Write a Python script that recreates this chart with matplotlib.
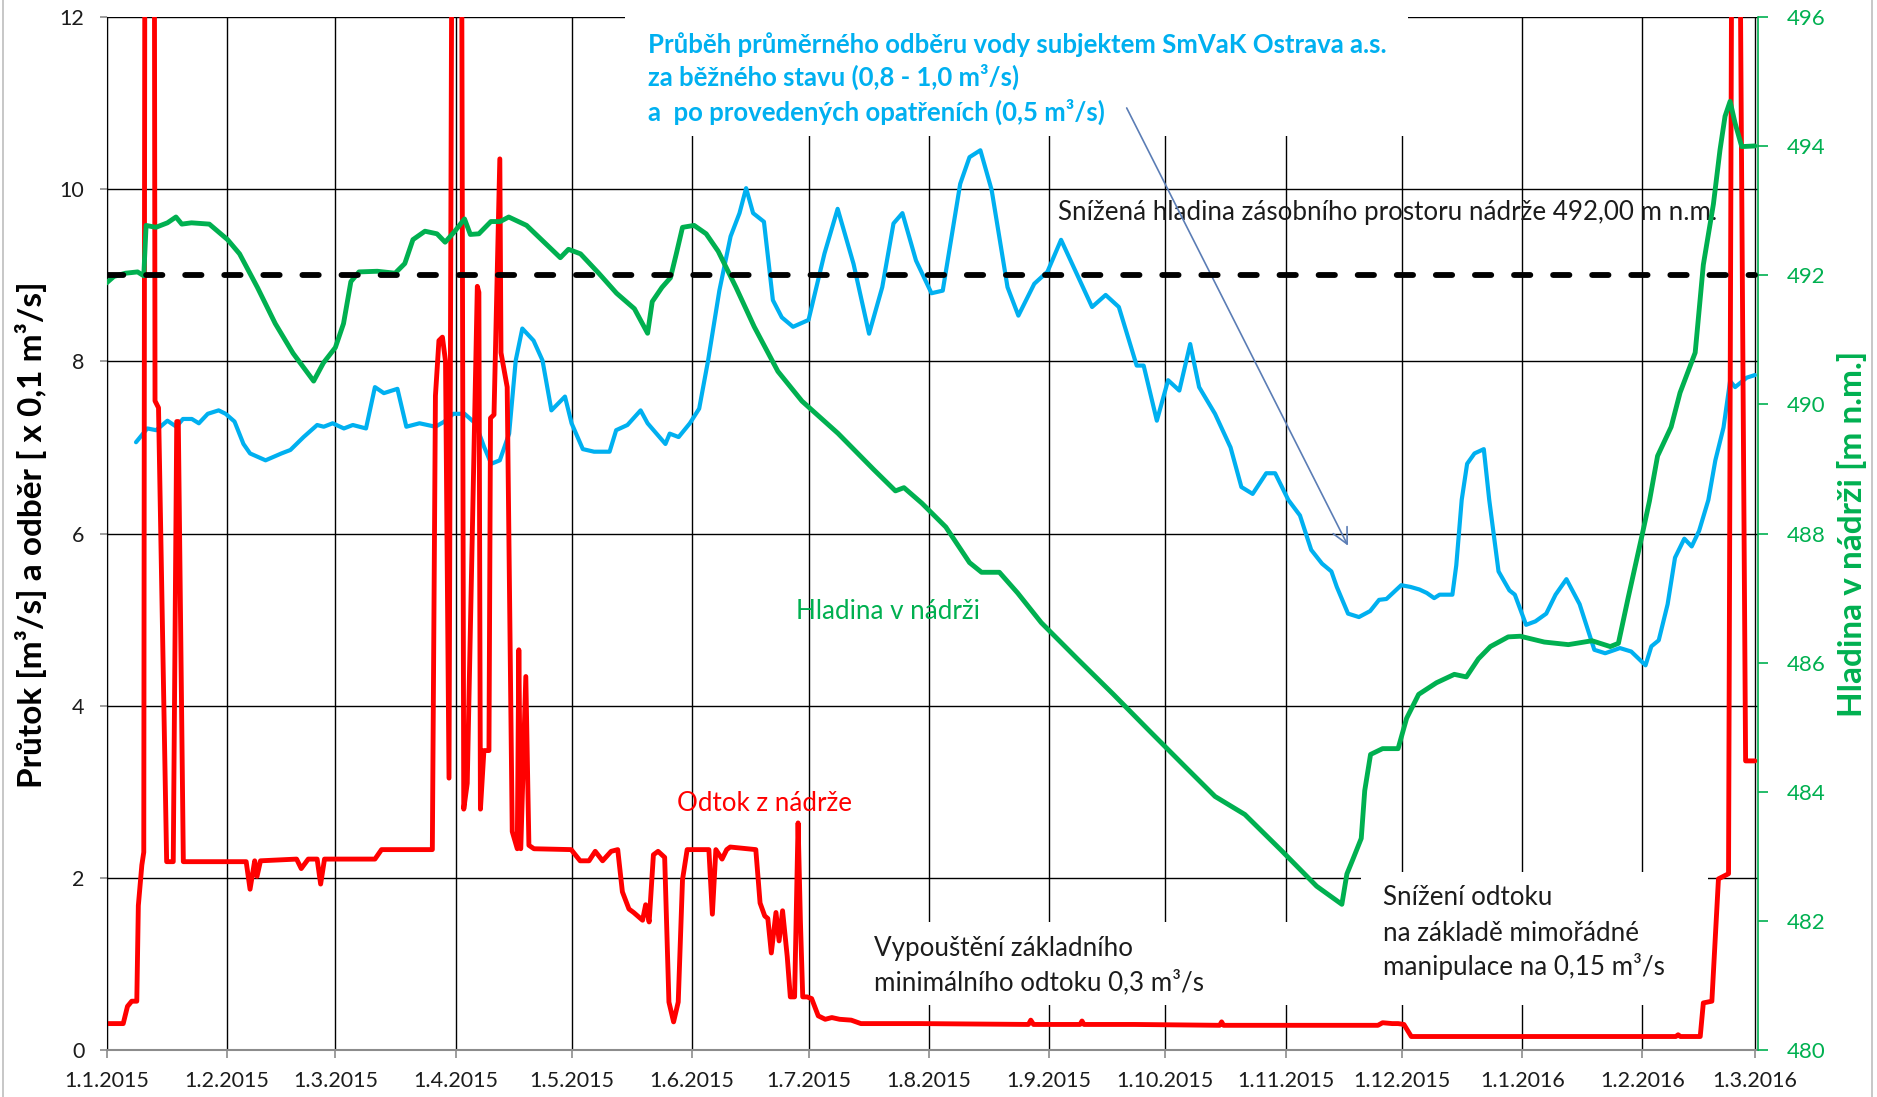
import numpy as np
import pandas as pd
import matplotlib
matplotlib.use("Agg")
import matplotlib.pyplot as plt
from matplotlib.patches import Rectangle
from matplotlib.lines import Line2D

plt.rcParams['font.family'] = ['Lato', 'DejaVu Sans']

START = pd.Timestamp('2015-01-01')

# ---------------- data (day offset from 1.1.2015, value) ----------------
odtok_days = [0, 4.3, 5.4, 6.5, 7.8, 8.2, 9.1, 9.6, 9.9, 12.3, 12.5, 13.4, 15.5, 17.2, 18.1, 18.5, 19.8,
              36, 37, 38.2, 38.8, 39.7, 49, 50.2, 52, 54.3, 55.2, 56.2, 69.2, 70.9, 83, 84, 84.8, 85.7,
              86.6, 87.4, 88.3, 89.1, 91.5, 92.1, 93, 95.6, 96.0, 96.4, 97.3, 98.6, 99, 99.9, 101.4,
              101.7, 103.3, 104.6, 105.9, 106.3, 106.8, 108.1, 108.9, 110.2, 119.8, 122.1, 124.4, 126,
              127.9, 130.1, 131.8, 133, 134.7, 135.9, 138.2, 139, 139.9, 141, 142.2, 143.9, 145, 146.2,
              147.4, 148.5, 149.7, 155.3, 156.2, 157.1, 158.7, 159.9, 160.8, 167.4, 168.5, 169.7,
              170.5, 171.4, 172.6, 173.4, 174.3, 175.5, 176.3, 177.4, 178.3, 178.9, 179.5, 180.6,
              181.8, 183.5, 185.3, 187, 189, 192, 194.5, 210, 237.7, 238.3, 239, 251, 251.5, 252, 265,
              287, 287.5, 288, 300, 327.8, 329, 331.5, 333, 334.5, 336.4, 404.6, 405.2, 405.8, 410.9,
              411.7, 413.9, 415.6, 418.2, 419.1, 421.0, 422.6, 425]
odtok_vals = [0.31, 0.31, 0.51, 0.57, 0.57, 1.68, 2.15, 2.3, 14, 14, 7.54, 7.46, 2.19, 2.19, 7.3, 7.3, 2.19,
              2.19, 1.87, 2.2, 2.02, 2.2, 2.22, 2.11, 2.22, 2.22, 1.93, 2.22, 2.22, 2.33, 2.33, 2.33, 7.6, 8.24,
              8.28, 8.0, 3.16, 14, 14, 2.8, 3.1, 8.87, 8.8, 2.8, 3.48, 3.48, 7.34, 7.38, 10.35,
              8.1, 7.7, 2.54, 2.34, 4.65, 2.34, 4.34, 2.38, 2.34, 2.33, 2.2, 2.2, 2.31,
              2.2, 2.31, 2.33, 1.84, 1.64, 1.6, 1.51, 1.69, 1.49, 2.27, 2.31, 2.24, 0.56, 0.33,
              0.56, 1.98, 2.33, 2.33, 1.58, 2.33, 2.22, 2.33, 2.36, 2.33, 1.71, 1.56,
              1.53, 1.13, 1.6, 1.27, 1.62, 1.09, 0.62, 0.62, 2.64, 1.5, 0.62, 0.62,
              0.6, 0.4, 0.36, 0.38, 0.36, 0.35, 0.31, 0.31, 0.3, 0.35, 0.3, 0.3, 0.34, 0.3, 0.3,
              0.29, 0.33, 0.29, 0.29, 0.29, 0.32, 0.31, 0.31, 0.3, 0.16, 0.16, 0.18, 0.16, 0.16,
              0.55, 0.57, 1.99, 2.05, 14, 14, 3.36, 3.36]

odber_days = [7.6, 10.5, 12.8, 15.7, 18.0, 19.7, 22.0, 23.8, 26.1, 28.9, 30.7, 33.0, 35.3, 37.0, 41.0,
              45.1, 47.4, 50.8, 54.3, 56.0, 58.3, 61.2, 63.5, 66.9, 69.2, 71.5, 75.0, 77.3, 80.7, 84.8,
              87.1, 89.4, 92.3, 95.1, 97.4, 99.2, 101.4, 103.8, 105.5, 107.2, 110.1, 112.4, 114.7,
              118.2, 119.9, 122.8, 125.7, 129.7, 131.4, 134.3, 137.7, 139.5, 141.8, 144.1, 145.2,
              147.5, 150.4, 152.8, 155.1, 158, 160.9, 163.2, 164.9, 166.7, 169.5, 171.8, 174.1, 177.0,
              181.0, 185.1, 188.5, 192.6, 196.6, 200.0, 202.9, 205.2, 208.7, 212.7, 215.6, 220.1,
              222.5, 225.3, 228.2, 232.3, 235.1, 239.2, 242.6, 246.1, 250.1, 254.1, 257.6, 261.0,
              265.6, 267.4, 270.8, 273.7, 276.6, 279.4, 281.7, 285.8, 289.8, 292.6, 295.5, 299.0,
              301.3, 304.7, 307.7, 310.6, 313.4, 315.8, 317.2, 320.1, 322.9, 325.8, 328.1, 330.0,
              333.8, 336.2, 338.5, 340.4, 342.3, 343.7, 347.0, 348.0, 349.4, 350.8, 352.7, 355.1,
              356.5, 358.9, 361.7, 363.1, 366.0, 368.4, 371.2, 373.6, 376.4, 379.8, 383.6, 386.4,
              390.2, 393.1, 396.8, 398.3, 400.2, 402.5, 404.4, 406.8, 408.7, 410.6, 413.0, 414.8,
              416.9, 418.6, 419.9, 422.9, 425.0]
odber_vals = [7.06, 7.22, 7.20, 7.31, 7.24, 7.33, 7.33, 7.28, 7.39, 7.43, 7.39, 7.30, 7.04, 6.93, 6.85,
              6.93, 6.97, 7.12, 7.26, 7.24, 7.28, 7.22, 7.26, 7.22, 7.70, 7.63, 7.68, 7.24, 7.28, 7.24,
              7.30, 7.39, 7.39, 7.28, 7.00, 6.81, 6.85, 7.16, 8.01, 8.38, 8.24, 8.01, 7.43,
              7.59, 7.28, 6.98, 6.95, 6.95, 7.20, 7.26, 7.43, 7.28, 7.16, 7.04, 7.16,
              7.12, 7.28, 7.45, 8.01, 8.82, 9.45, 9.72, 10.01, 9.72, 9.62, 8.71, 8.51, 8.40,
              8.48, 9.25, 9.77, 9.13, 8.32, 8.86, 9.60, 9.72, 9.17, 8.79, 8.82, 10.06,
              10.37, 10.45, 9.99, 8.86, 8.53, 8.90, 9.04, 9.41, 9.02, 8.63, 8.77, 8.63,
              7.95, 7.95, 7.31, 7.78, 7.66, 8.20, 7.70, 7.39, 7.00, 6.54, 6.46, 6.70,
              6.70, 6.39, 6.21, 5.81, 5.65, 5.56, 5.38, 5.07, 5.03, 5.10, 5.23, 5.24,
              5.40, 5.38, 5.35, 5.31, 5.25, 5.29, 5.29, 5.63, 6.39, 6.81, 6.93, 6.98,
              6.39, 5.56, 5.34, 5.29, 4.94, 4.98, 5.07, 5.29, 5.47, 5.18, 4.65, 4.61,
              4.67, 4.63, 4.47, 4.69, 4.76, 5.18, 5.72, 5.94, 5.85, 6.03, 6.39, 6.85,
              7.23, 7.77, 7.70, 7.81, 7.84]

hladina_days = [0, 1.9, 4.9, 8.0, 9.6, 10.2, 12.7, 15.7, 17.9, 19.4, 21.9, 26.5, 31.2, 34.3, 38.9, 43.5,
                48.1, 53.4, 55.9, 59.0, 61.1, 63.0, 65.1, 69.8, 74.4, 76.9, 79.0, 82.1, 85.2, 87.3,
                89.8, 92.3, 93.8, 96.0, 99.1, 101.5, 103.7, 108.3, 113.0, 117.0, 119.1, 122.2, 126.9,
                131.5, 136.1, 139.5, 140.7, 143.2, 145.4, 146.9, 148.5, 151.5, 154.6, 157.7, 162.3,
                167.0, 173.1, 179.3, 188.6, 197.8, 203.4, 205.6, 210.2, 216.4, 222.5, 225.6, 230.2,
                234.9, 241.0, 250.3, 259.6, 268.8, 278.1, 285.8, 293.5, 302.8, 312.0, 318.5, 319.8,
                321.3, 323.5, 324.4, 325.9, 329.0, 333.0, 335.2, 338.3, 342.9, 347.5, 350.6, 353.7,
                356.8, 361.4, 364.5, 370.7, 376.9, 383.0, 387.7, 389.8, 392.3, 396, 397.8, 399.9,
                403.4, 405.7, 409.6, 411.7, 414.3, 416.0, 417.3, 418.6, 419.9, 421.6, 425]
hladina_vals = [491.88, 491.98, 492.03, 492.05, 491.99, 492.77, 492.74, 492.81, 492.90, 492.79, 492.81,
                492.79, 492.55, 492.33, 491.81, 491.25, 490.79, 490.36, 490.64, 490.88, 491.25, 491.90,
                492.05, 492.06, 492.03, 492.18, 492.55, 492.68, 492.64, 492.51, 492.68, 492.87, 492.63,
                492.64, 492.83, 492.83, 492.90, 492.77, 492.50, 492.27, 492.40, 492.33, 492.03, 491.72,
                491.48, 491.10, 491.59, 491.81, 491.96, 492.33, 492.74, 492.77, 492.64, 492.37, 491.81,
                491.20, 490.51, 490.05, 489.55, 488.99, 488.66, 488.71, 488.47, 488.10, 487.55, 487.40,
                487.40, 487.08, 486.62, 486.06, 485.51, 484.95, 484.39, 483.93, 483.65, 483.10, 482.54,
                482.26, 482.73, 482.95, 483.28, 484.02, 484.58, 484.67, 484.67, 485.14, 485.51, 485.69,
                485.82, 485.78, 486.06, 486.25, 486.40, 486.41, 486.32, 486.28, 486.34, 486.25, 486.30,
                487.0, 488.0, 488.5, 489.2, 489.65, 490.18, 490.8, 492.16, 493.1, 493.94, 494.46,
                494.69, 494.35, 493.99, 494.0]

reduced_level = 492.0          # Snížená hladina zásobního prostoru
month_ticks = list(pd.date_range('2015-01-01', '2016-03-01', freq='MS'))
month_labels = ['1.1.2015', '1.2.2015', '1.3.2015', '1.4.2015', '1.5.2015', '1.6.2015', '1.7.2015',
                '1.8.2015', '1.9.2015', '1.10.2015', '1.11.2015', '1.12.2015', '1.1.2016',
                '1.2.2016', '1.3.2016']
left_ticks = [0, 2, 4, 6, 8, 10, 12]
right_ticks = [480, 482, 484, 486, 488, 490, 492, 494, 496]


def to_dates(days):
    return START + pd.to_timedelta(np.asarray(days, dtype=float), unit='D')


def d(day):
    return START + pd.Timedelta(days=day)


RED = '#FF0000'
GREEN = '#00B050'
BLUE = '#00B0F0'
TXT = '#1c1c1c'
ANN = 18.7

fig = plt.figure(figsize=(18.77, 10.97), dpi=100)
ax = fig.add_axes([0.05676, 0.04258, 0.87985, 0.94214])
ax2 = ax.twinx()

ax.set_xlim(d(0), d(425.8))
ax.set_ylim(0, 12)
ax2.set_ylim(480, 496)

# grid
ax.set_axisbelow(True)
ax.set_xticks(month_ticks)
ax.set_xticklabels(month_labels)
ax.set_yticks(left_ticks)
ax.grid(True, color='black', lw=1.0)
ax.yaxis.get_gridlines()[0].set_visible(False)

# white boxes behind annotations (hide grid)
for (x0, x1, y0, y1) in [(133.6, 335.5, 10.62, 12.3), (194.0, 323.5, 0.53, 1.49), (323.5, 413.0, 0.53, 2.07)]:
    ax.add_patch(Rectangle((d(x0), y0), d(x1) - d(x0), y1 - y0, facecolor='white',
                           edgecolor='none', zorder=1, clip_on=False))

# series
ax.plot(to_dates(odber_days), odber_vals, color=BLUE, lw=3.0, zorder=2.1,
        solid_joinstyle='round', solid_capstyle='round')
ax.plot(to_dates(odtok_days), odtok_vals, color=RED, lw=3.5, zorder=2.2,
        solid_joinstyle='round', solid_capstyle='round')
ax2.plot(to_dates(hladina_days), hladina_vals, color=GREEN, lw=3.5, zorder=2,
         solid_joinstyle='round', solid_capstyle='round')
ax2.plot([d(0), d(425)], [reduced_level, reduced_level], color='black', lw=4.2,
         linestyle=(0, (2.8, 3.9)), dash_capstyle='round', zorder=3)

# spines & ticks
for sp in ['top', 'right']:
    ax.spines[sp].set_visible(False)
ax.spines['left'].set_color('black')
ax.spines['bottom'].set_color('#8c8c8c')
ax.spines['bottom'].set_linewidth(1.5)
ax.spines['bottom'].set_zorder(3)
ax2.spines['top'].set_visible(False)
ax2.spines['left'].set_visible(False)
ax2.spines['bottom'].set_visible(False)
ax2.spines['right'].set_color(GREEN)
ax2.spines['right'].set_linewidth(1.2)

ax.tick_params(axis='x', direction='out', length=6, width=1.2, color='#8c8c8c', pad=9,
               labelsize=15.5, labelcolor=TXT)
ax.tick_params(axis='y', direction='out', length=5, width=1.2, color='#8c8c8c', pad=11,
               labelsize=15.5, labelcolor=TXT)
ax2.set_yticks(right_ticks)
ax2.tick_params(axis='y', direction='out', length=7, width=1.2, color=GREEN, pad=14,
                labelsize=16, labelcolor=GREEN)

fig.text(0.0165, 0.513, 'Průtok [m³/s] a odběr [ x 0,1 m³/s]', rotation=90, ha='center', va='center',
         fontsize=24, fontweight='bold', color='black')
fig.text(0.9866, 0.513, 'Hladina v nádrži [m n.m.]', rotation=90, ha='center', va='center',
         fontsize=24, fontweight='bold', color=GREEN)

# annotations
for txt, y in [('Průběh průměrného odběru vody subjektem SmVaK Ostrava a.s.', 11.68),
               ('za běžného stavu (0,8 - 1,0 m³/s)', 11.30),
               ('a  po provedených opatřeních (0,5 m³/s)', 10.89)]:
    ax.text(d(139.5), y, txt, color=BLUE, fontsize=18.5, fontweight='bold', ha='left', va='center', zorder=3)

ax.text(d(245.4), 9.73, 'Snížená hladina zásobního prostoru nádrže 492,00 m n.m.', color=TXT,
        fontsize=ANN, ha='left', va='center', zorder=3)
ax.text(d(177.8), 5.09, 'Hladina v nádrži', color=GREEN, fontsize=ANN, ha='left', va='center', zorder=3)
ax.text(d(147.2), 2.86, 'Odtok z nádrže', color=RED, fontsize=ANN, ha='left', va='center', zorder=3)
ax.text(d(197.8), 1.18, 'Vypouštění základního', color=TXT, fontsize=ANN, ha='left', va='center', zorder=3)
ax.text(d(197.8), 0.79, 'minimálního odtoku 0,3 m³/s', color=TXT, fontsize=ANN, ha='left', va='center', zorder=3)
ax.text(d(329.0), 1.77, 'Snížení odtoku', color=TXT, fontsize=ANN, ha='left', va='center', zorder=3)
ax.text(d(329.0), 1.36, 'na základě mimořádné', color=TXT, fontsize=ANN, ha='left', va='center', zorder=3)
ax.text(d(329.0), 0.97, 'manipulace na 0,15 m³/s', color=TXT, fontsize=ANN, ha='left', va='center', zorder=3)

ax.annotate('', xy=(d(320.4), 5.83), xytext=(d(262.7), 10.97),
            arrowprops=dict(arrowstyle='->', color='#5b7db5', lw=1.2, mutation_scale=28), zorder=3.5)

# chart border lines
fig.add_artist(Line2D([0.0016, 0.0016], [0, 1], color='#bdbdbd', lw=1.2, transform=fig.transFigure))
fig.add_artist(Line2D([0.9975, 0.9975], [0, 1], color='#bdbdbd', lw=1.2, transform=fig.transFigure))

fig.savefig('out.png', dpi=100)
